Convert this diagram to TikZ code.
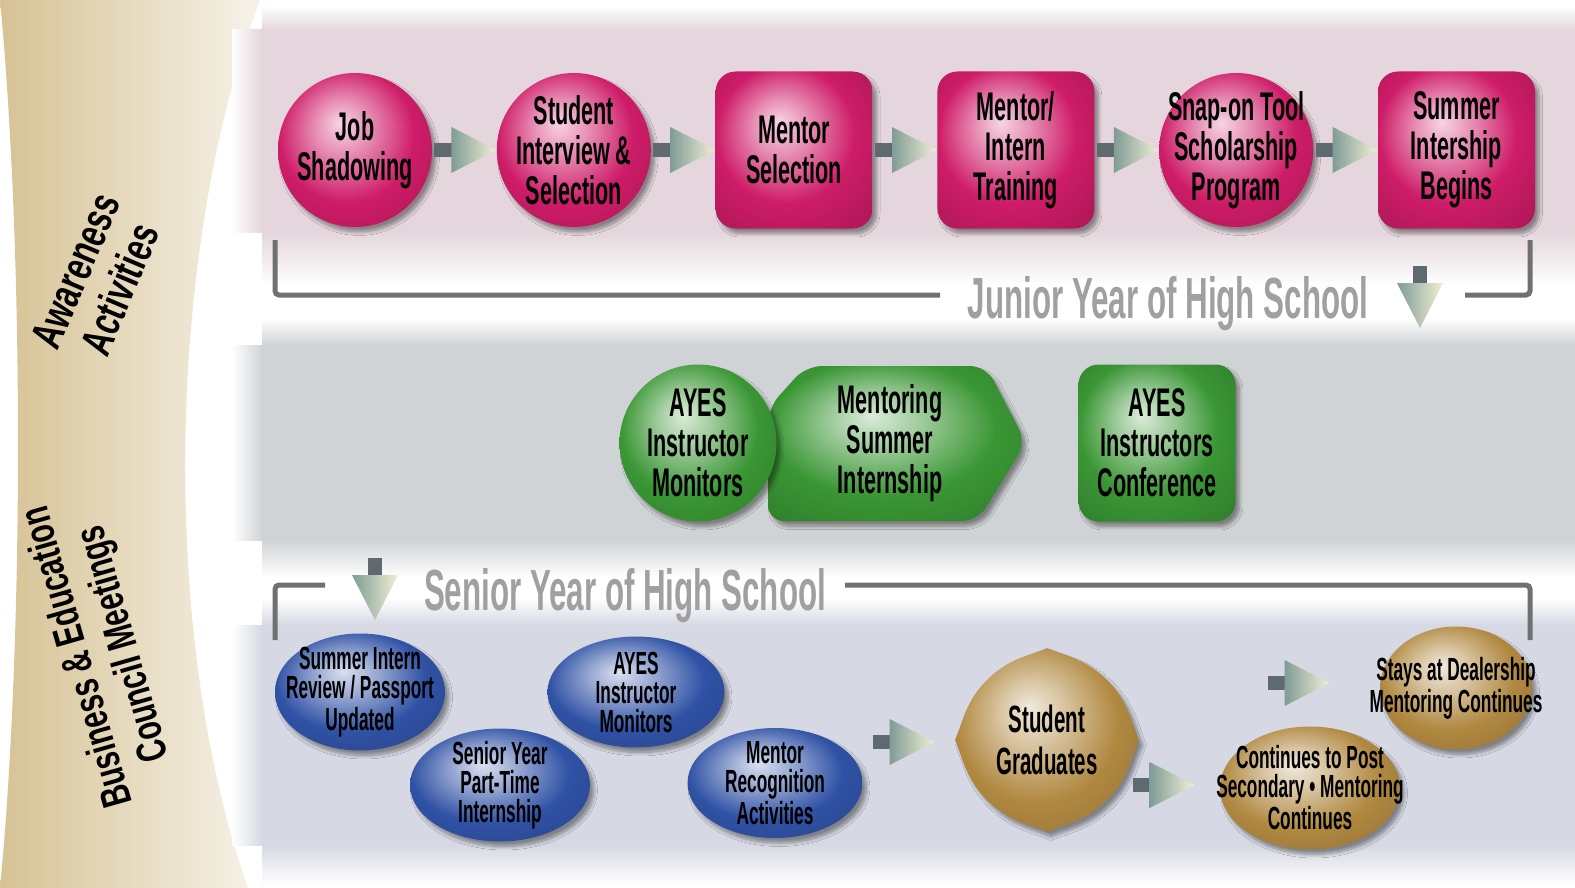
\documentclass[tikz,border=0pt]{standalone}
\usepackage{fontspec}
\newfontfamily\condfont[FakeStretch=0.54]{Liberation Sans}
\newfontfamily\bandfont[FakeStretch=0.7]{Liberation Sans}
\usetikzlibrary{shapes.geometric,shadows.blur,calc,positioning}

\definecolor{pinkc}{RGB}{206,28,104}
\definecolor{greenc}{RGB}{58,150,52}
\definecolor{bluec}{RGB}{48,82,165}
\definecolor{goldc}{RGB}{176,136,64}
\definecolor{pinkbg}{RGB}{228,214,220}
\definecolor{graybg}{RGB}{208,211,214}
\definecolor{bluebg}{RGB}{214,217,227}
\definecolor{tanc}{RGB}{214,194,148}
\definecolor{linec}{RGB}{110,112,114}
\definecolor{stubc}{RGB}{95,106,112}
\definecolor{tealc}{RGB}{128,156,150}
\definecolor{palec}{RGB}{240,240,212}
\definecolor{headc}{RGB}{160,160,162}

\colorlet{gloss}{white}
\pgfdeclareradialshading[gloss]{gloss}{\pgfpoint{-5bp}{9bp}}{%
  color(0bp)=(gloss!18!white); color(9bp)=(gloss!50!white);
  color(22bp)=(gloss); color(36bp)=(gloss!85!black); color(50bp)=(gloss!65!black)}

\begin{document}
\begin{tikzpicture}[x=0.5pt, y=-0.5pt, node distance=32pt,
  gloss color/.code={\colorlet{gloss}{#1}\tikzset{shading=gloss}},
  soft/.style={blur shadow={shadow xshift=2pt, shadow yshift=-2.5pt, shadow opacity=40, shadow blur steps=8}},
  txt/.style={font=\condfont\bfseries\fontsize{20}{20}\selectfont, align=center},
  smalltxt/.style={font=\condfont\bfseries\fontsize{16}{14.5}\selectfont, align=center},
  headtxt/.style={font=\condfont\bfseries\fontsize{29}{30}\selectfont, text=headc},
  bandtxt/.style={font=\bandfont\bfseries\fontsize{22}{24}\selectfont, align=center},
  pinkball/.style={circle, soft, gloss color=pinkc, minimum size=77pt, inner sep=0pt},
  pinkbox/.style={rectangle, rounded corners=10pt, soft, gloss color=pinkc, minimum size=78.5pt, inner sep=0pt},
  greenball/.style={circle, soft, gloss color=greenc, minimum size=78.5pt, inner sep=0pt},
  greenbox/.style={rectangle, rounded corners=10pt, soft, gloss color=greenc, minimum size=78.5pt, inner sep=0pt},
  blueell/.style={ellipse, soft, gloss color=bluec, inner sep=0pt},
  goldell/.style={ellipse, soft, gloss color=goldc, inner sep=0pt},
  bracket/.style={draw=linec, line width=2.5pt, rounded corners=2pt},
  chev/.pic={
    \fill[stubc] (-62,-7) rectangle (-40,7);
    \shade[left color=tealc, right color=palec] (0,0) -- (-45,-23) -- (-45,23) -- cycle;
  }]
\useasboundingbox (0,0) rectangle (1575,888);

% left band
\shade[left color=tanc, right color=tanc!20!white] (0,0) -- (260,0) .. controls (165,250) and (160,640) .. (248,888)
  -- (0,888) .. controls (24,640) and (24,250) .. (0,0) -- cycle;
\node[bandtxt, rotate=67] (awareness) at (98,280) {Awareness\\Activities};
\node[bandtxt, font=\bandfont\bfseries\fontsize{21}{24}\selectfont, rotate=106] (council) at (102,650) {Business \& Education\\Council Meetings};

% panels
\fill[pinkbg] (262,30) rectangle (1575,232);
\shade[top color=white, bottom color=pinkbg] (262,6) rectangle (1575,30);
\shade[top color=pinkbg, bottom color=white] (262,232) rectangle (1575,285);
\shade[left color=white, right color=pinkbg] (232,30) rectangle (262,232);
\fill[graybg] (262,345) rectangle (1575,540);
\shade[top color=white, bottom color=graybg] (262,318) rectangle (1575,345);
\shade[top color=graybg, bottom color=white] (262,540) rectangle (1575,578);
\shade[left color=white, right color=graybg] (232,345) rectangle (262,540);
\fill[bluebg] (262,625) rectangle (1575,845);
\shade[top color=white, bottom color=bluebg] (262,598) rectangle (1575,625);
\shade[top color=bluebg, bottom color=white] (262,845) rectangle (1575,885);
\shade[left color=white, right color=bluebg] (232,625) rectangle (262,845);

% year brackets
\node[headtxt] (junior) at (1168,304) {Junior Year of High School};
\draw[bracket] (275,240) |- (940,295);
\draw[bracket] (1465,295) -| (1530,240);
\pic[rotate=-90] at (1420,328) {chev};
\node[headtxt] (senior) at (625,596) {Senior Year of High School};
\draw[bracket] (275,640) |- (325,585);
\draw[bracket] (845,585) -| (1530,640);
\pic[rotate=-90] at (375,620) {chev};

% junior year
\node[pinkball, label={[txt]center:Job\\Shadowing}] (job) at (355,150) {};
\node[pinkball, right=of job, label={[txt]center:Student\\Interview \&\\Selection}] (interview) {};
\node[pinkbox, right=of interview, label={[txt]center:Mentor\\Selection}] (mentorsel) {};
\node[pinkbox, right=of mentorsel, label={[txt]center:Mentor/\\Intern\\Training}] (training) {};
\node[pinkball, right=of training, label={[txt]center:Snap-on Tool\\Scholarship\\Program}] (snapon) {};
\node[pinkbox, right=of snapon, label={[txt]center:Summer\\Intership\\Begins}] (summer) {};
\pic at (interview.west) {chev};
\pic at (mentorsel.west) {chev};
\pic at (training.west) {chev};
\pic at (snapon.west) {chev};
\pic at (summer.west) {chev};

% summer
\shade[soft, gloss color=greenc, rounded corners=8pt] (768,408) -- (806,366) -- (986,366) -- (1026,442)
  -- (978,521) -- (768,521) -- cycle;
\node[txt] (mentoring) at (890,443) {Mentoring\\Summer\\Internship};
\node[greenball, label={[txt]center:AYES\\Instructor\\Monitors}] (monitorsJ) at (698,443) {};
\node[greenbox, label={[txt]center:AYES\\Instructors\\Conference}] (conference) at (1157,443) {};

% senior year
\node[blueell, minimum width=85pt, minimum height=58.5pt, label={[smalltxt]center:Summer Intern\\Review / Passport\\Updated}] (review) at (360,692) {};
\node[blueell, minimum width=88.5pt, minimum height=55.5pt, label={[smalltxt]center:AYES\\Instructor\\Monitors}] (monitorsS) at (636,692) {};
\node[blueell, minimum width=90pt, minimum height=56.5pt, label={[smalltxt]center:Senior Year\\Part-Time\\Internship}] (parttime) at (500,785) {};
\node[blueell, minimum width=87.5pt, minimum height=55pt, label={[smalltxt]center:Mentor\\Recognition\\Activities}] (recognition) at (775,783) {};

\begin{scope}[shift={(1047,740)}]
\shade[soft, gloss color=goldc] (0,-92) .. controls (18,-84) and (38,-82) .. (60,-60) .. controls (82,-38) and (84,-18) .. (92,0)
  .. controls (84,18) and (82,38) .. (60,60) .. controls (38,82) and (18,84) .. (0,92)
  .. controls (-18,84) and (-38,82) .. (-60,60) .. controls (-82,38) and (-84,18) .. (-92,0)
  .. controls (-84,-18) and (-82,-38) .. (-60,-60) .. controls (-38,-82) and (-18,-84) .. (0,-92) -- cycle;
\end{scope}
\node[circle, minimum size=92pt, inner sep=0pt, font=\condfont\bfseries\fontsize{19}{21}\selectfont, align=center] (graduates) at (1047,740) {Student\\Graduates};
\node[goldell, minimum width=90pt, minimum height=61.5pt, label={[smalltxt]center:Continues to Post\\Secondary \textbullet{} Mentoring\\Continues}] (postsec) at (1310,788) {};
\node[goldell, minimum width=76pt, minimum height=61.5pt, label={[smalltxt]center:Stays at Dealership\\Mentoring Continues}] (dealer) at (1456,688) {};
\pic at ($(graduates.west)+(-20,2)$) {chev};
\pic at ($(postsec.west)+(-25,-3)$) {chev};
\pic at ($(dealer.west)+(-50,-5)$) {chev};
\end{tikzpicture}
\end{document}
